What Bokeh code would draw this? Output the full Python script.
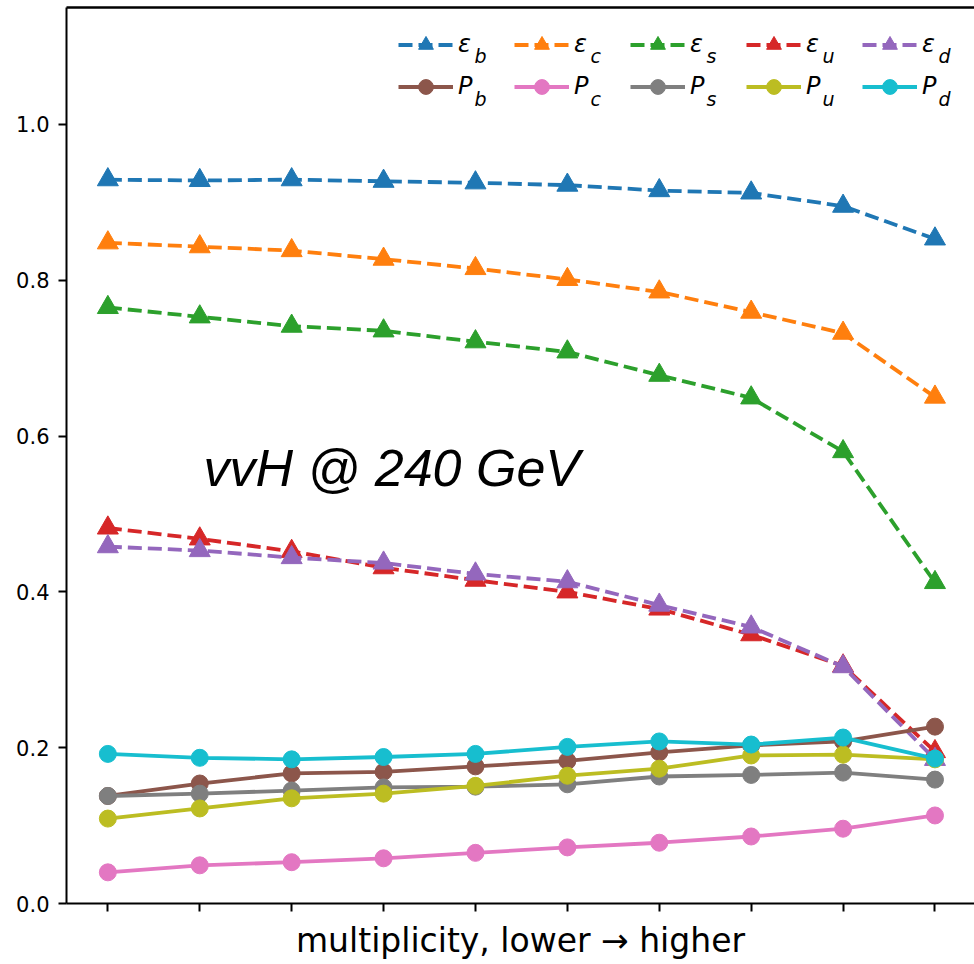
from bokeh.plotting import figure
from bokeh.models import (Range1d, FixedTicker, LinearAxis, Legend, LegendItem,
                          Label, PrintfTickFormatter)
from bokeh.embed import file_html
from bokeh.resources import INLINE

# ---------------- data ----------------
bins = list(range(10))  # multiplicity bins, lower -> higher

eff_b = [0.929, 0.928, 0.929, 0.927, 0.925, 0.922, 0.915, 0.912, 0.895, 0.853]
eff_c = [0.848, 0.843, 0.838, 0.827, 0.815, 0.801, 0.785, 0.759, 0.732, 0.650]
eff_s = [0.765, 0.753, 0.741, 0.735, 0.721, 0.708, 0.678, 0.649, 0.580, 0.412]
eff_u = [0.482, 0.468, 0.452, 0.431, 0.415, 0.400, 0.378, 0.345, 0.305, 0.195]
eff_d = [0.458, 0.453, 0.444, 0.437, 0.423, 0.413, 0.383, 0.355, 0.304, 0.185]

pur_b = [0.138, 0.154, 0.167, 0.169, 0.176, 0.183, 0.194, 0.203, 0.208, 0.227]
pur_c = [0.040, 0.049, 0.053, 0.058, 0.065, 0.072, 0.078, 0.086, 0.096, 0.113]
pur_s = [0.138, 0.141, 0.145, 0.149, 0.150, 0.153, 0.163, 0.165, 0.168, 0.159]
pur_u = [0.109, 0.122, 0.135, 0.141, 0.151, 0.164, 0.173, 0.190, 0.191, 0.185]
pur_d = [0.192, 0.187, 0.185, 0.188, 0.192, 0.201, 0.208, 0.204, 0.213, 0.186]

flavours = ["b", "c", "s", "u", "d"]
eff_series = [eff_b, eff_c, eff_s, eff_u, eff_d]
pur_series = [pur_b, pur_c, pur_s, pur_u, pur_d]
eff_colors = ["#1f77b4", "#ff7f0e", "#2ca02c", "#d62728", "#9467bd"]
pur_colors = ["#8c564b", "#e377c2", "#7f7f7f", "#bcbd22", "#17becf"]

y_ticks = [0.0, 0.2, 0.4, 0.6, 0.8, 1.0]
x_label = "multiplicity, lower \u2192 higher"
annotation = "vvH @ 240 GeV"

# ---------------- figure ----------------
p = figure(width=974, height=962, output_backend="svg", toolbar_location=None,
           x_range=Range1d(-0.45, 9.43), y_range=Range1d(0, 1.15),
           min_border_left=66, min_border_right=0, min_border_top=7,
           min_border_bottom=58)
p.outline_line_color = None
p.xgrid.visible = False
p.ygrid.visible = False
p.background_fill_color = "white"
p.border_fill_color = "white"

# x axis
xa = p.xaxis[0]
xa.ticker = FixedTicker(ticks=bins)
xa.major_label_overrides = {i: "" for i in bins}
xa.major_label_text_font_size = "0px"
xa.major_label_standoff = 0
xa.major_tick_in = 0
xa.major_tick_out = 8
xa.minor_tick_in = 0
xa.minor_tick_out = 0
xa.axis_line_width = 2
xa.major_tick_line_width = 2
xa.axis_label = x_label
xa.axis_label_text_font = "DejaVu Sans"
xa.axis_label_text_font_style = "normal"
xa.axis_label_text_font_size = "33px"
xa.axis_label_standoff = 9
xa.axis_label_text_color = "black"

# y axis
ya = p.yaxis[0]
ya.ticker = FixedTicker(ticks=y_ticks)
ya.formatter = PrintfTickFormatter(format="%.1f")
ya.major_label_text_font = "DejaVu Sans"
ya.major_label_text_font_size = "21px"
ya.major_label_text_color = "black"
ya.major_label_standoff = 9
ya.major_tick_in = 0
ya.major_tick_out = 8
ya.minor_tick_in = 0
ya.minor_tick_out = 0
ya.axis_line_width = 2
ya.major_tick_line_width = 2

# top spine
top = LinearAxis(ticker=FixedTicker(ticks=[]), major_tick_out=0, major_tick_in=0,
                 minor_tick_out=0, minor_tick_in=0, major_label_standoff=0,
                 major_label_text_font_size="0px", axis_line_width=2.5)
p.add_layout(top, "above")

# ---------------- series ----------------
eff_items = []
for f, vals, c in zip(flavours, eff_series, eff_colors):
    l = p.line(bins, vals, line_color=c, line_width=3.8, line_dash="14 6")
    s = p.scatter(bins, vals, marker="triangle", size=21, fill_color=c, line_color=c)
    eff_items.append(LegendItem(label="\u03b5", renderers=[l, s]))

pur_items = []
for f, vals, c in zip(flavours, pur_series, pur_colors):
    l = p.line(bins, vals, line_color=c, line_width=3.8)
    s = p.scatter(bins, vals, marker="circle", size=17, fill_color=c, line_color=c)
    pur_items.append(LegendItem(label="P", renderers=[l, s]))

legend = Legend(items=eff_items + pur_items, location=(332, 798.5),
                orientation="horizontal", ncols=5,
                label_text_font="DejaVu Sans", label_text_font_style="italic",
                label_text_font_size="24px", label_text_color="black",
                glyph_width=55, glyph_height=37, label_height=37, label_width=51,
                label_standoff=5, spacing=5, padding=0, margin=0,
                background_fill_alpha=0, border_line_alpha=0)
p.add_layout(legend, "center")

# subscripts of the legend labels
for i, f in enumerate(flavours):
    for yy in (848, 805):
        p.add_layout(Label(x=408 + 116 * i, y=yy, x_units="screen", y_units="screen",
                           text=f, text_font="DejaVu Sans", text_font_style="italic",
                           text_font_size="19px", text_baseline="alphabetic",
                           text_color="black"))

# annotation text
p.add_layout(Label(x=137, y=436, x_units="screen", y_units="screen", text=annotation,
                   text_font="Liberation Sans", text_font_style="italic",
                   text_font_size="52px", text_baseline="alphabetic",
                   text_color="black"))

open("out.html", "w").write(file_html(p, INLINE))
